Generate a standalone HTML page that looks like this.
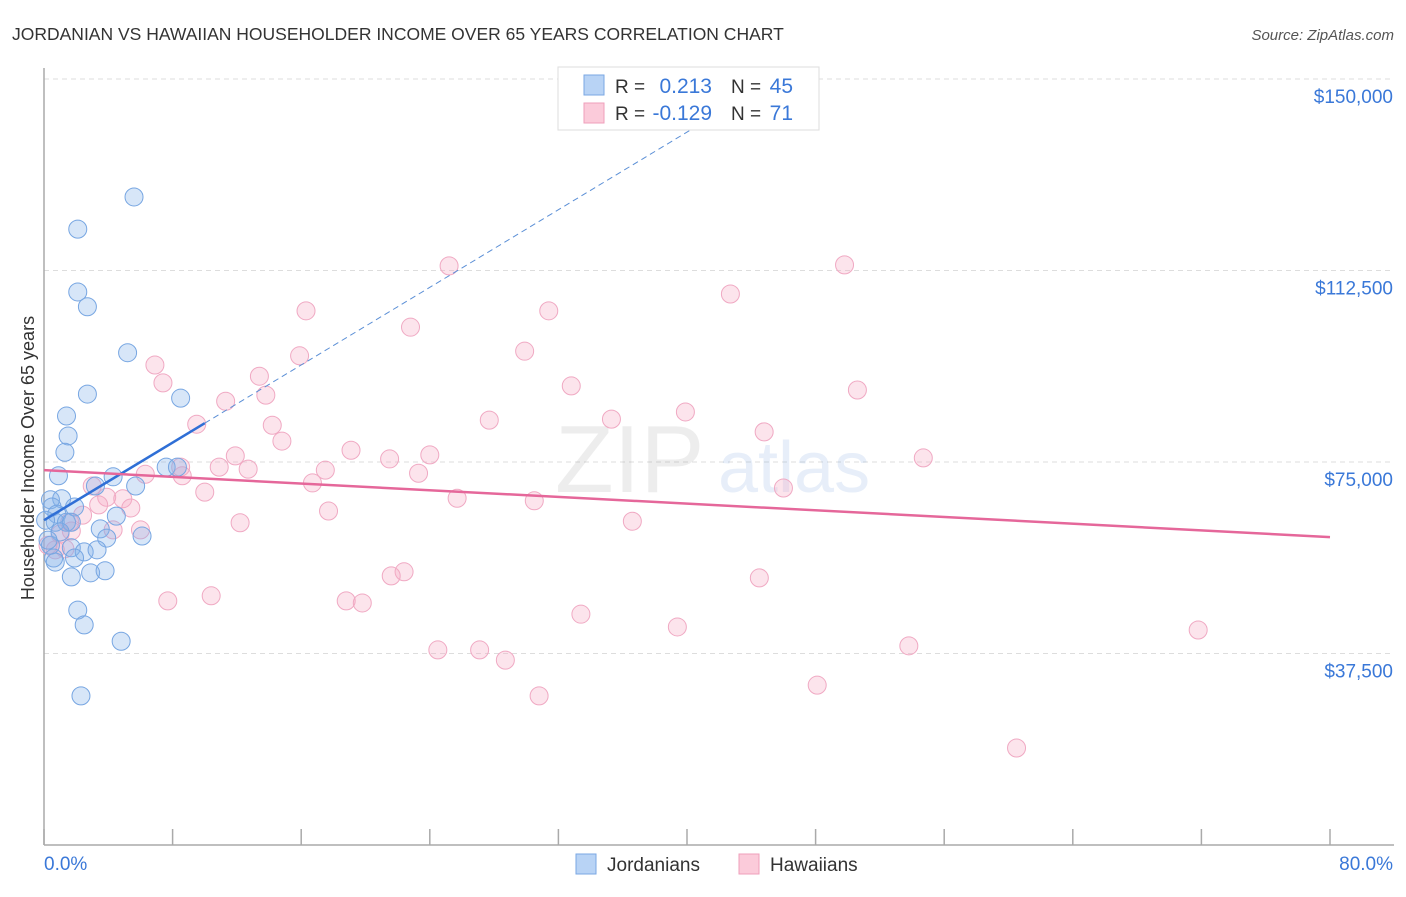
<!DOCTYPE html>
<html><head><meta charset="utf-8"><style>
body{margin:0;background:#fff;font-family:"Liberation Sans",sans-serif;}
svg text{font-family:"Liberation Sans",sans-serif;}
</style></head><body>
<svg id="chart" width="1406" height="892" viewBox="0 0 1406 892">
<text x="12" y="40" font-size="17.5" fill="#333">JORDANIAN VS HAWAIIAN HOUSEHOLDER INCOME OVER 65 YEARS CORRELATION CHART</text>
<text x="1394" y="40" font-size="15" fill="#555" font-style="italic" text-anchor="end">Source: ZipAtlas.com</text>
<g id="grid"></g>
<g opacity="0.14">
<text x="555" y="492" font-size="96" font-family="Liberation Serif" fill="#888">ZIP</text>
<text x="718" y="492" font-size="72" fill="#5b8fd6">atlas</text>
</g>
<g id="axes"></g>
<g id="marks"></g>
<text x="34" y="458" font-size="18" fill="#333" text-anchor="middle" transform="rotate(-90 34 458)">Householder Income Over 65 years</text>
<g>
<rect x="558" y="67" width="261" height="63" fill="#fff" stroke="#ddd"/>
<rect x="584" y="75" width="20" height="20" fill="#b8d3f5" stroke="#7aa7e3"/>
<rect x="584" y="103" width="20" height="20" fill="#fbcbda" stroke="#ef9fbb"/>
<text x="615" y="93" font-size="19" fill="#333">R =</text>
<text x="712" y="93" font-size="21" fill="#3a78d8" text-anchor="end">0.213</text>
<text x="731" y="93" font-size="19" fill="#333">N =</text>
<text x="793" y="93" font-size="21" fill="#3a78d8" text-anchor="end">45</text>
<text x="615" y="120" font-size="19" fill="#333">R =</text>
<text x="712" y="120" font-size="21" fill="#3a78d8" text-anchor="end">-0.129</text>
<text x="731" y="120" font-size="19" fill="#333">N =</text>
<text x="793" y="120" font-size="21" fill="#3a78d8" text-anchor="end">71</text>
</g>
<g>
<rect x="576" y="854" width="20" height="20" fill="#b8d3f5" stroke="#7aa7e3"/>
<text x="607" y="871" font-size="19" fill="#333">Jordanians</text>
<rect x="739" y="854" width="20" height="20" fill="#fbcbda" stroke="#ef9fbb"/>
<text x="770" y="871" font-size="19" fill="#333">Hawaiians</text>
</g>
</svg>
<script>
const yTicks=[37500,75000,112500,150000];
const yTickLabels=["$37,500","$75,000","$112,500","$150,000"];
const xTicks=[0,8,16,24,32,40,48,56,64,72,80];
const jorX=[5.6,2.1,2.1,2.7,5.2,2.7,8.5,1.4,1.5,1.3,0.9,7.6,8.3,4.3,3.2,5.7,1.1,0.4,0.5,1.9,0.8,4.5,0.7,1.4,1.7,3.5,3.9,6.1,1.0,0.4,1.7,2.5,3.3,0.6,1.9,0.7,2.9,3.8,1.7,2.1,2.5,4.8,2.3,0.25,0.1];
const jorY=[126.9,120.6,108.3,105.4,96.4,88.3,87.5,84.0,80.1,76.9,72.3,74.0,74.0,72.1,70.3,70.3,67.8,67.6,66.2,66.2,64.8,64.4,63.2,63.2,63.2,61.9,60.1,60.5,61.3,58.7,58.2,57.4,57.8,56.2,56.2,55.4,53.3,53.7,52.5,46.0,43.1,39.9,29.2,59.7,63.6];
const hawX=[25.2,49.8,16.3,31.4,42.7,22.8,15.9,29.9,6.9,7.4,13.4,32.8,50.6,13.8,11.3,9.5,27.7,35.3,39.9,14.2,14.8,44.8,19.1,11.9,24.0,21.5,54.7,10.9,12.7,8.5,8.6,6.3,17.5,23.3,16.7,46.0,3.0,10.0,25.7,30.5,3.9,4.9,3.4,5.4,17.7,2.4,12.2,36.6,1.6,6.0,4.3,1.7,1.0,0.25,0.7,1.3,22.4,21.6,44.5,7.7,10.4,18.8,19.8,33.4,39.4,71.8,53.8,24.5,27.1,28.7,48.1,30.8,60.5];
const hawY=[113.4,113.6,104.6,104.6,107.9,101.4,95.8,96.7,94.0,90.5,91.8,89.9,89.1,88.1,86.9,82.4,83.2,83.4,84.8,82.2,79.1,80.9,77.3,76.2,76.4,75.6,75.8,74.0,73.6,74.0,72.3,72.6,73.4,72.8,70.9,69.9,70.3,69.1,67.9,67.4,68.1,67.8,66.6,66.0,65.4,64.6,63.1,63.4,63.2,61.7,61.7,61.5,60.9,58.7,57.8,58.0,53.5,52.7,52.3,47.8,48.8,47.8,47.4,45.2,42.7,42.1,39.0,38.2,38.2,36.2,31.3,29.2,19.0];
const jorTrend=[63.6,82.6];
const hawTrend=[73.4,60.3];
const NS="http://www.w3.org/2000/svg";
const X0=44,X1=1330,YB=845,PXPER=191.5/37.5;
function sx(v){return X0+(v/80)*(X1-X0);}
function sy(k){return YB-k*PXPER;}
function mk(t,a,p){const e=document.createElementNS(NS,t);for(const k in a)e.setAttribute(k,a[k]);p.appendChild(e);return e;}
const grid=document.getElementById('grid'),axes=document.getElementById('axes'),marks=document.getElementById('marks');
yTicks.forEach((t,i)=>{
 const y=sy(t/1000);
 const l=mk('line',{x1:X0,x2:1394,y1:y,y2:y,stroke:'#ddd','stroke-dasharray':'5,4'},grid);
 
 
 const tx=mk('text',{x:1393,y:y+24,'font-size':19,fill:'#3a78d8','text-anchor':'end'},axes);
 tx.textContent=yTickLabels[i];
 
 
});
const ya=mk('line',{x1:X0,x2:X0,y1:68,y2:YB,stroke:'#aaa','stroke-width':1.5},axes);


const xa=mk('line',{x1:X0,x2:1394,y1:YB,y2:YB,stroke:'#aaa','stroke-width':1.5},axes);


xTicks.forEach(t=>{
 const tk=mk('line',{x1:sx(t),x2:sx(t),y1:YB,y2:829,stroke:'#aaa','stroke-width':1.5},axes);
 
 
});
const xl0=mk('text',{x:44,y:870,'font-size':19,fill:'#3a78d8'},axes);xl0.textContent=xTicks[0].toFixed(1)+'%';


const xl1=mk('text',{x:1393,y:870,'font-size':19,fill:'#3a78d8','text-anchor':'end'},axes);xl1.textContent=xTicks[xTicks.length-1].toFixed(1)+'%';


for(let i=0;i<hawX.length;i++){
 const c=mk('circle',{cx:sx(hawX[i]),cy:sy(hawY[i]),r:9,fill:'rgba(245,170,196,0.32)',stroke:'#f0a9c3','stroke-width':1},marks);
 
 
}
for(let i=0;i<jorX.length;i++){
 const c=mk('circle',{cx:sx(jorX[i]),cy:sy(jorY[i]),r:9,fill:'rgba(130,176,232,0.32)',stroke:'#77a6e2','stroke-width':1},marks);
 
 
}
const slope=(jorTrend[1]-jorTrend[0])/10;
const jd=mk('line',{x1:sx(10),y1:sy(jorTrend[1]),x2:sx(42),y2:sy(jorTrend[0]+slope*42),stroke:'#5b8fd6','stroke-width':1,'stroke-dasharray':'6,4'},marks);


const jt=mk('line',{x1:sx(0),y1:sy(jorTrend[0]),x2:sx(10),y2:sy(jorTrend[1]),stroke:'#2f6fd6','stroke-width':2.5},marks);


const ht=mk('line',{x1:sx(0),y1:sy(hawTrend[0]),x2:sx(80),y2:sy(hawTrend[1]),stroke:'#e5679a','stroke-width':2.5},marks);


</script>
</body></html>
